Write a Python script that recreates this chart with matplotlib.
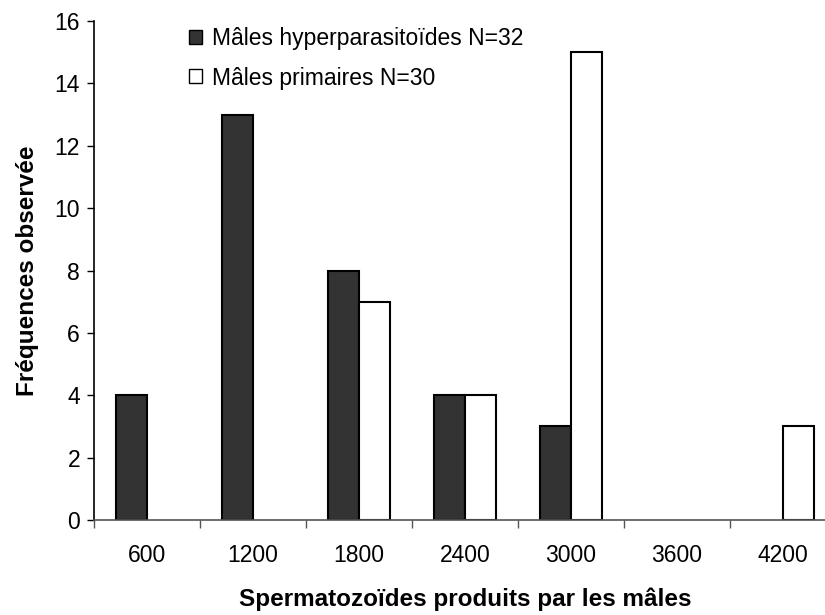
import matplotlib
matplotlib.use("Agg")
import matplotlib.pyplot as plt
from matplotlib.patches import Patch
import numpy as np

categories = ["600", "1200", "1800", "2400", "3000", "3600", "4200"]
hyper = [4, 13, 8, 4, 3, 0, 0]
primaires = [0, 0, 7, 4, 15, 0, 3]
label_hyper = "Mâles hyperparasitoïdes N=32"
label_prim = "Mâles primaires N=30"

plt.rcParams['font.family'] = ['Liberation Sans', 'DejaVu Sans']

W, H = 825, 615
fig = plt.figure(figsize=(W/100, H/100), dpi=100)
left, right, bottom, top = 94, 836, 520, 21
ax = fig.add_axes([left/W, 1 - bottom/H, (right-left)/W, (bottom-top)/H])

x = np.arange(len(categories))
w = 0.29
b1 = ax.bar(x - w/2, hyper, width=w, color='#333333', edgecolor='black', linewidth=1.5, label=label_hyper)
b2 = ax.bar(x + w/2, primaires, width=w, color='white', edgecolor='black', linewidth=1.5, label=label_prim)
for p in list(b1) + list(b2):
    if p.get_height() == 0:
        p.set_visible(False)

ax.set_xlim(-0.5, len(categories) - 0.5)
ax.set_ylim(0, 16)
ax.set_yticks(range(0, 17, 2))
ax.set_xticks(np.arange(-0.5, len(categories) - 0.5, 1.0))
ax.set_xticklabels([])
ax.set_xticks(x, minor=True)
ax.set_xticklabels(categories, minor=True)
ax.tick_params(axis='x', which='major', direction='out', length=6, width=1, color='#555555')
ax.tick_params(axis='x', which='minor', length=0, labelsize=16.5, pad=17)
ax.tick_params(axis='y', direction='out', length=5, width=1, labelsize=16.5, pad=5)

for s in ['top', 'right']:
    ax.spines[s].set_visible(False)
ax.spines['left'].set_linewidth(1.2)
ax.spines['bottom'].set_linewidth(1.2)
ax.spines['bottom'].set_color('#555555')

ax.set_xlabel("Spermatozoïdes produits par les mâles", fontsize=17.5, fontweight='bold', labelpad=15)
ax.set_ylabel("Fréquences observée", fontsize=17.5, fontweight='bold', labelpad=11)

handles = [Patch(facecolor='#333333', edgecolor='black', linewidth=1),
           Patch(facecolor='white', edgecolor='black', linewidth=1)]
leg = ax.legend(handles, [label_hyper, label_prim], loc='upper left',
                bbox_to_anchor=(189/W, 1 - 27/H), bbox_transform=fig.transFigure,
                frameon=False, fontsize=16.5, handlelength=0.55, handleheight=0.55,
                handletextpad=0.45, labelspacing=0.72, borderpad=0, borderaxespad=0)

fig.savefig("out.png", dpi=100)
